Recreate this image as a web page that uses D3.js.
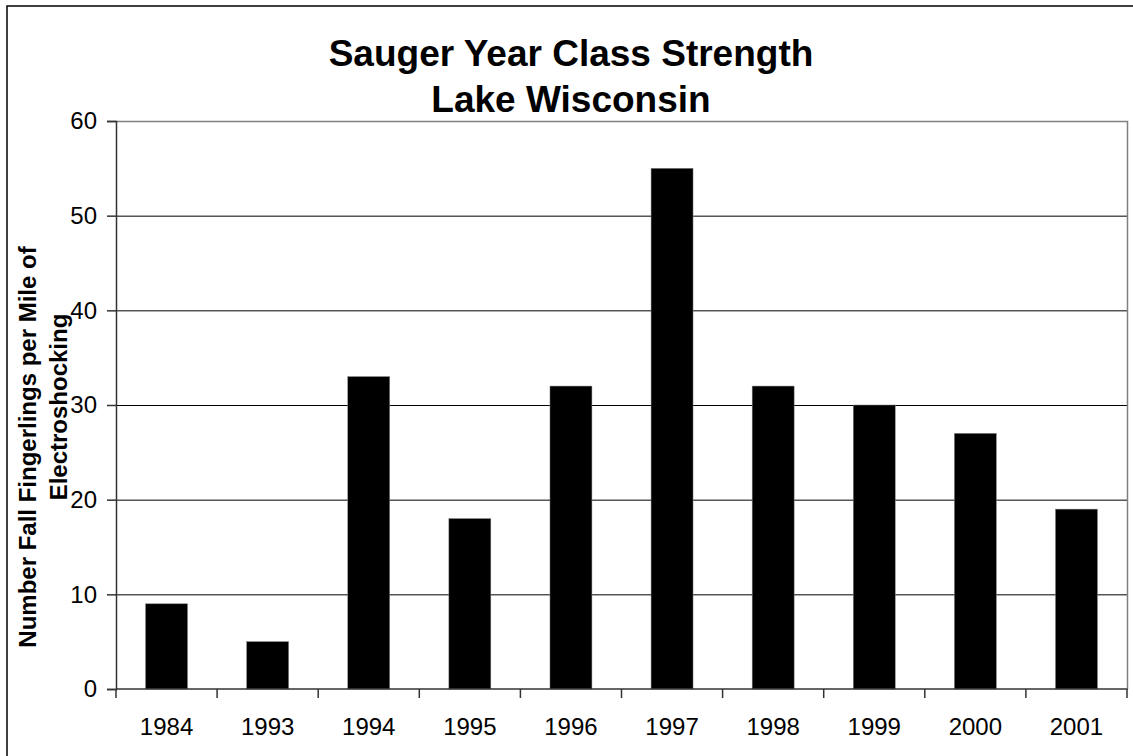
<!DOCTYPE html>
<html>
<head>
<meta charset="utf-8">
<script src="https://cdn.jsdelivr.net/npm/d3@7"></script>
<style>
  body { margin: 0; background: #fff; }
  svg text { font-family: Arial, "Liberation Sans", sans-serif; }
</style>
</head>
<body>
<div id="canvas"></div>
<script>
// chart data
const years = ["1984", "1993", "1994", "1995", "1996", "1997", "1998", "1999", "2000", "2001"];
const fingerlings = [9, 5, 33, 18, 32, 55, 32, 30, 27, 19];
const yTicks = [0, 10, 20, 30, 40, 50, 60];
const titleLines = ["Sauger Year Class Strength", "Lake Wisconsin"];
const yTitleLines = ["Number Fall Fingerlings per Mile of", "Electroshocking"];

const width = 1133, height = 756;
const margin = {top: 121, right: 6, bottom: 67, left: 116};
const plotW = width - margin.left - margin.right;
const plotH = height - margin.top - margin.bottom;

let svg = d3.select("#canvas")
    .append("svg")
    .attr("width", width)
    .attr("height", height);

// outer chart border (runs off the right/bottom edge like the original)
svg.append("rect")
    .attr("x", 7).attr("y", 6)
    .attr("width", 1150).attr("height", 780)
    .attr("fill", "none")
    .attr("stroke", "#000")
    .attr("stroke-width", 1.5);

let g = svg.append("g")
    .attr("transform", "translate(" + margin.left + "," + margin.top + ")");

let x = d3.scaleBand()
    .domain(years)
    .range([0, plotW])
    .paddingInner(0.585)
    .paddingOuter(0.2925);

let y = d3.scaleLinear()
    .domain([0, 60])
    .range([plotH, 0]);

// gridlines
g.append("g")
    .selectAll("line")
    .data(yTicks.filter(d => d > 0 && d < 60))
    .enter()
    .append("line")
    .attr("x1", 0).attr("x2", plotW)
    .attr("y1", d => y(d) + 0.5).attr("y2", d => y(d) + 0.5)
    .attr("stroke", "#000")
    .attr("stroke-width", 1);

// plot area border top and right (grey)
g.append("path")
    .attr("d", "M0," + (y(60) + 0.5) + "H" + (plotW + 0.5) + "V" + plotH)
    .attr("fill", "none")
    .attr("stroke", "#808080")
    .attr("stroke-width", 1.5);

// bars
g.selectAll(".bar")
    .data(fingerlings)
    .enter()
    .append("rect")
    .attr("class", "bar")
    .attr("x", (d, i) => x(years[i]))
    .attr("width", x.bandwidth())
    .attr("y", d => y(d))
    .attr("height", d => plotH - y(d))
    .attr("fill", "#000")
    .attr("stroke", "#808080")
    .attr("stroke-width", 0.5);

// y axis
let yAxis = g.append("g")
    .call(d3.axisLeft(y).tickValues(yTicks).tickSize(9).tickPadding(10));
yAxis.select(".domain").attr("stroke", "#333").attr("stroke-width", 1.5);
yAxis.selectAll(".tick line").attr("stroke", "#333").attr("stroke-width", 1.5);
yAxis.selectAll(".tick text")
    .attr("font-size", "24px")
    .attr("fill", "#000")
    .style("font-family", "Arial, 'Liberation Sans', sans-serif");

// x axis: ticks sit between categories
let xAxis = g.append("g")
    .attr("transform", "translate(0," + plotH + ")");
xAxis.append("line")
    .attr("x1", 0).attr("x2", plotW + 0.5)
    .attr("y1", 0).attr("y2", 0)
    .attr("stroke", "#333").attr("stroke-width", 1.5);
xAxis.selectAll(".xtick")
    .data(d3.range(years.length + 1))
    .enter()
    .append("line")
    .attr("class", "xtick")
    .attr("x1", i => i * x.step()).attr("x2", i => i * x.step())
    .attr("y1", 0).attr("y2", 9)
    .attr("stroke", "#333").attr("stroke-width", 1.5);
xAxis.selectAll(".xlabel")
    .data(years)
    .enter()
    .append("text")
    .attr("class", "xlabel")
    .attr("x", d => x(d) + x.bandwidth() / 2)
    .attr("y", 46)
    .attr("text-anchor", "middle")
    .attr("font-size", "24px")
    .attr("fill", "#000")
    .text(d => d);

// title
svg.selectAll(".title")
    .data(titleLines)
    .enter()
    .append("text")
    .attr("class", "title")
    .attr("x", 571)
    .attr("y", (d, i) => 66 + i * 46)
    .attr("text-anchor", "middle")
    .attr("font-size", "37px")
    .attr("font-weight", "bold")
    .attr("fill", "#000")
    .text(d => d);

// y axis title, each line centred on its own spot like the original
const yTitlePos = [{cx: 36, cy: 447}, {cx: 67, cy: 407}];
svg.selectAll(".ytitle")
    .data(yTitleLines)
    .enter()
    .append("text")
    .attr("class", "ytitle")
    .attr("transform", (d, i) => "translate(" + yTitlePos[i].cx + "," + yTitlePos[i].cy + ") rotate(-90)")
    .attr("text-anchor", "middle")
    .attr("font-size", "24px")
    .attr("font-weight", "bold")
    .attr("fill", "#000")
    .text(d => d);
</script>
</body>
</html>
